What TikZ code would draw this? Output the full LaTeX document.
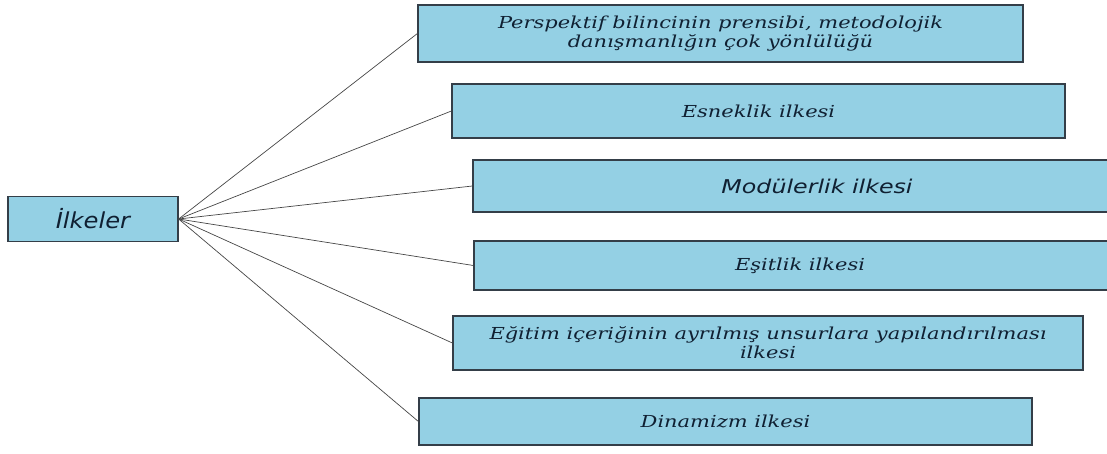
\documentclass[tikz,border=0pt]{standalone}
\usepackage{xcolor}
\usepackage{fontspec}
\usepackage{tikz}
\usetikzlibrary{positioning,calc}
\newfontfamily\boxfont[FakeStretch=1.27]{DejaVu Serif}
\newfontfamily\headfont[FakeStretch=1.1]{DejaVu Sans}
\newfontfamily\modfont[FakeStretch=1.25]{DejaVu Sans}
\definecolor{boxfill}{RGB}{148,208,228}
\definecolor{boxframe}{RGB}{52,62,72}
\definecolor{boxtext}{RGB}{16,32,50}
\definecolor{linkgray}{RGB}{70,70,70}

\begin{document}
\begin{tikzpicture}[
  x=1pt, y=-1pt,
  pbox/.style={rectangle, draw=boxframe, fill=boxfill, line width=1.2pt,
               inner sep=0pt, align=center, text=boxtext,
               font=\boxfont\itshape\fontsize{16.5}{19}\selectfont},
  rootbox/.style={pbox, font=\headfont\itshape\fontsize{22}{25}\selectfont},
  ln/.style={draw=linkgray, line width=0.7pt}
]
\path[use as bounding box, clip] (0,0) rectangle (1107,454);

% Left: root node
\node[rootbox, minimum width=170pt, minimum height=45pt] (ilk) at (93,219) {İlkeler};
\coordinate (hub) at (ilk.east);

% Right column: six principles (top to bottom)
\node[pbox, minimum width=605pt, minimum height=57pt] (p1) at (720.5,33.5)
  {Perspektif bilincinin prensibi, metodolojik\\danışmanlığın çok yönlülüğü};
\node[pbox, minimum width=613pt, minimum height=54pt] (p2) at (758.5,111) {Esneklik ilkesi};
\node[pbox, minimum width=688pt, minimum height=52pt,
      font=\modfont\itshape\fontsize{19}{22}\selectfont] (p3) at (817,186) {Modülerlik ilkesi};
\node[pbox, minimum width=652pt, minimum height=49pt] (p4) at (800,265.5) {Eşitlik ilkesi};
\node[pbox, minimum width=630pt, minimum height=54pt] (p5) at (768,343)
  {Eğitim içeriğinin ayrılmış unsurlara yapılandırılması\\ilkesi};
\node[pbox, minimum width=613pt, minimum height=47pt] (p6) at (725.5,421.5) {Dinamizm ilkesi};

% Fan of links from the root
\foreach \p in {p1,p2,p3,p4,p5,p6}
  \draw[ln] (hub) -- (\p.west);
\end{tikzpicture}
\end{document}
